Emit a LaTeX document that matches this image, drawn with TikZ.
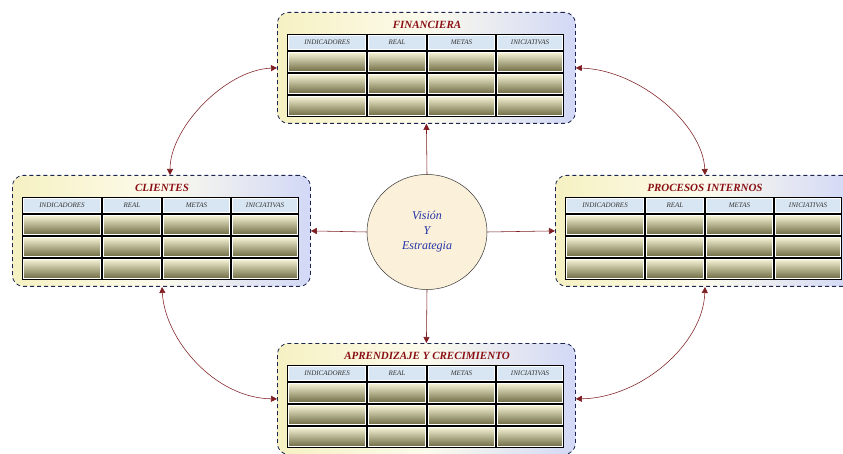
\documentclass[tikz,border=0pt]{standalone}
\usepackage{fontspec}
\setmainfont{Liberation Serif}
\usetikzlibrary{arrows.meta,shapes.geometric}
\definecolor{boxY}{HTML}{F6F1C2}
\definecolor{boxB}{HTML}{D2D8F6}
\definecolor{navy}{HTML}{1C2550}
\definecolor{cellT}{HTML}{F3F1D2}
\definecolor{cellM}{HTML}{D3D0A4}
\definecolor{cellB}{HTML}{6F6C45}
\definecolor{hdrC}{HTML}{D8E6F3}
\definecolor{ttl}{HTML}{8A0F14}
\definecolor{arr}{HTML}{7E1E22}
\definecolor{visT}{HTML}{2233A8}
\definecolor{visF}{HTML}{FBF0D9}
\tikzset{
  scbox/.style={draw=navy, line width=0.8pt, dash pattern=on 4pt off 3pt,
    rounded corners=11pt, left color=boxY, right color=boxB, middle color=white!70!boxY,
    minimum width=298pt, minimum height=111pt, inner sep=0pt, anchor=north west},
  cellshade/.style={top color=cellT, middle color=cellM, bottom color=cellB, draw=white, line width=0.7pt},
  hdrcell/.style={fill=hdrC, draw=white, line width=0.7pt},
  hdrtext/.style={font=\fontsize{7}{8}\selectfont\itshape, text=black!80, inner sep=0pt},
  ttltext/.style={font=\fontsize{11}{12}\selectfont\bfseries\itshape, text=ttl},
  conn/.style={draw=arr, line width=0.55pt, -{Triangle[length=6pt,width=6pt]}},
  conn2/.style={draw=arr, line width=0.55pt, {Triangle[length=6pt,width=6pt]}-{Triangle[length=6pt,width=6pt]}},
  visnode/.style={ellipse, draw=black!80, line width=0.5pt, fill=visF,
    minimum width=120pt, minimum height=115pt, inner sep=0pt,
    font=\fontsize{12}{15}\selectfont\itshape, text=visT, align=center}
}
\newcommand{\scorecard}[4]{%
\begin{scope}[shift={(#2,#3)}]
  \node[scbox] (#1) at (0,0) {};
  \fill[black] (10,22) rectangle (287,105);
  \foreach \xa/\xb in {10/90,90/150,150/219,219/287}{
    \fill[hdrcell] (\xa+1.6,23.6) rectangle (\xb-1.6,37.4);
    \foreach \ya/\yb in {39/61,61/83,83/105}{
      \shade[cellshade] (\xa+1.6,\ya+1.6) rectangle (\xb-1.6,\yb-1.6);
    }
  }
  \node[ttltext] (#1-t) at (150,13) {#4};
  \node[hdrtext] (#1-h1) at (50,30.5) {INDICADORES};
  \node[hdrtext] (#1-h2) at (120,30.5) {REAL};
  \node[hdrtext] (#1-h3) at (184.5,30.5) {METAS};
  \node[hdrtext] (#1-h4) at (253,30.5) {INICIATIVAS};
\end{scope}}
\begin{document}
\begin{tikzpicture}[x=1pt,y=-1pt]
\useasboundingbox (0,0) rectangle (843,454);
\fill[white] (0,0) rectangle (843,454);
\begin{scope}
\clip (0,0) rectangle (843,454);
\scorecard{fin}{277}{12}{FINANCIERA}
\scorecard{cli}{12}{175}{CLIENTES}
\scorecard{proc}{555}{175}{PROCESOS INTERNOS}
\scorecard{apr}{277}{343}{APRENDIZAJE Y CRECIMIENTO}
\node[visnode] (vis) at (427,232) {Visión\\Y\\Estrategia};
\draw[conn] (vis.north) -- (fin.south);
\draw[conn] (vis.west) -- (cli.east);
\draw[conn] (vis.east) -- (proc.west);
\draw[conn] (vis.south) -- (apr.north);
\coordinate (clin) at (170,175);
\coordinate (clis) at (162,287);
\coordinate (procn) at (705,175);
\coordinate (procs) at (705,287);
\draw[conn2] (clin) .. controls (170,128) and (225,70) .. (fin.west);
\draw[conn2] (fin.east) .. controls (640,70) and (703,125) .. (procn);
\draw[conn2] (clis) .. controls (165,340) and (215,398) .. (apr.west);
\draw[conn2] (apr.east) .. controls (640,398) and (703,345) .. (procs);
\end{scope}
\end{tikzpicture}
\end{document}
